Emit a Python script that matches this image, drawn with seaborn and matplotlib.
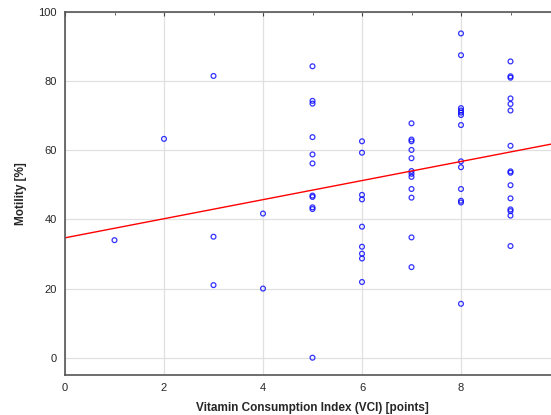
import matplotlib
matplotlib.use("Agg")
import matplotlib.pyplot as plt
import seaborn as sns
import pandas as pd
import numpy as np

sns.set_style("white")
plt.rcParams['font.family'] = ['Liberation Sans', 'DejaVu Sans']

vci_1 = [1]
mot_1 = [34]
vci_2 = [2]
mot_2 = [63.3]
vci_3 = [3, 3, 3]
mot_3 = [81.5, 35, 21]
vci_4 = [4, 4]
mot_4 = [41.7, 20]
mot_5 = [84.3, 74.3, 73.5, 63.8, 58.8, 56.2, 46.9, 46.5, 43.5, 43.0, 0]
mot_6 = [62.6, 59.3, 47.1, 45.8, 37.9, 32.1, 30.1, 28.7, 21.9]
mot_7 = [67.8, 63.1, 62.6, 60.1, 57.7, 54.0, 53.2, 52.3, 48.8, 46.3, 34.8, 26.2]
mot_8 = [93.8, 87.5, 72.2, 71.5, 70.9, 70.2, 67.3, 56.8, 55.1, 48.8, 45.4, 44.9, 15.6]
mot_9 = [85.7, 81.4, 81.0, 75.0, 73.4, 71.5, 61.3, 53.9, 53.5, 49.9, 46.1, 42.9, 42.4, 41.1, 32.3]

vci = (vci_1 + vci_2 + vci_3 + vci_4 + [5] * len(mot_5) + [6] * len(mot_6)
       + [7] * len(mot_7) + [8] * len(mot_8) + [9] * len(mot_9))
motility = mot_1 + mot_2 + mot_3 + mot_4 + mot_5 + mot_6 + mot_7 + mot_8 + mot_9

df = pd.DataFrame({"VCI": vci, "Motility": motility})

fig = plt.figure(figsize=(5.51, 4.15), dpi=100)
ax = fig.add_axes([65 / 551, 1 - 375 / 415, (560 - 65) / 551, (375 - 12) / 415])
ax.set_xlim(0, 10)
ax.set_ylim(-5, 100)

sns.regplot(data=df, x="VCI", y="Motility", ax=ax, ci=None, truncate=False,
            scatter_kws=dict(s=12, facecolors="none", edgecolors="#0000ff", linewidths=0.9),
            line_kws=dict(color="#ff0000", linewidth=1.0),
            marker="o")

ax.set_xlim(0, 10)
ax.set_ylim(-5, 100)
ax.set_xticks([0, 2, 4, 6, 8])
ax.set_xticks([1, 3, 5, 7, 9], minor=True)
ax.set_yticks([0, 20, 40, 60, 80, 100])
ax.grid(True, which="major", color="#e0e0e0", linewidth=0.9)
ax.set_axisbelow(True)
ax.tick_params(axis="both", which="both", direction="in", length=3, top=True,
               labelsize=8, color="#444444", pad=6)
ax.tick_params(axis="x", which="minor", length=2)
for s in ax.spines.values():
    s.set_color("#555555")
    s.set_linewidth(1.2)
ax.set_xlabel("Vitamin Consumption Index (VCI) [points]", fontsize=8.5, fontweight="bold", labelpad=6)
ax.set_ylabel("Motility [%]", fontsize=8.5, fontweight="bold", labelpad=8)

fig.savefig("out.png", dpi=100)
